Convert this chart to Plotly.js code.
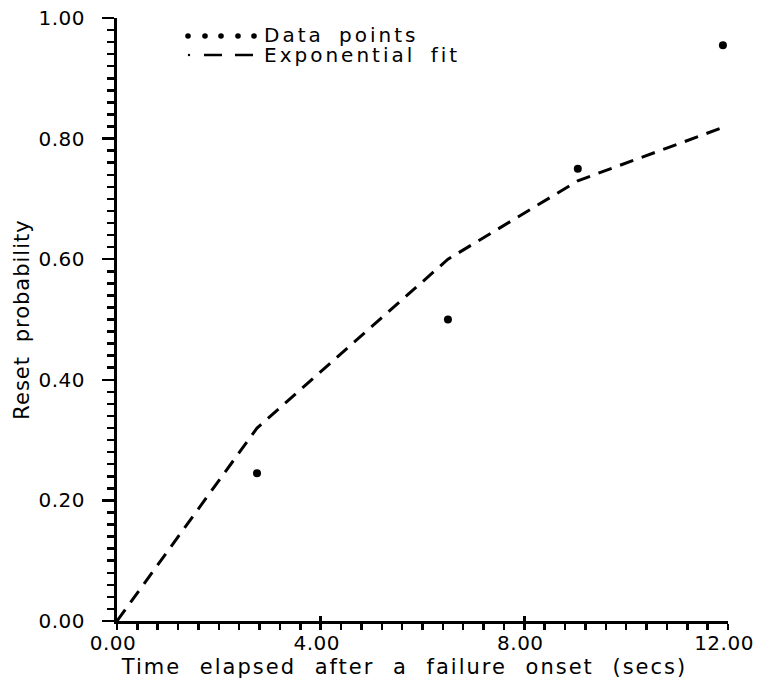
<!DOCTYPE html>
<html>
<head>
<meta charset="utf-8">
<script src="https://cdn.plot.ly/plotly-3.0.1.min.js"></script>
<style>
html,body{margin:0;padding:0;background:#fff;}
#chart{width:757px;height:689px;}
.xtitle{letter-spacing:2px;word-spacing:10px;}
#chart .xtitle{transform:translateX(-18px);}
.ytitle{letter-spacing:1px;word-spacing:6px;}
.annotation-text{letter-spacing:3px;word-spacing:6px;}
.xtick text,.ytick text{letter-spacing:0.5px;}
</style>
</head>
<body>
<div id="chart"></div>
<script>
// Data
const dataTime = [2.75, 6.5, 9.05, 11.9];
const dataProb = [0.245, 0.50, 0.75, 0.955];
const fitTime = [0.0, 2.75, 6.5, 9.05, 11.95];
const fitProb = [0.0, 0.32, 0.60, 0.73, 0.82];
const legendLabels = ['Data points', 'Exponential fit'];
const xTitle = 'Time elapsed after a failure onset (secs)';
const yTitle = 'Reset probability';

const FONT = 'DejaVu Sans, sans-serif';
const W = 757, H = 689;
const M = {l: 117, r: 29, t: 18, b: 68};
const pw = W - M.l - M.r, ph = H - M.t - M.b;
const px2x = p => (p - M.l) / pw;
const py2y = p => (H - M.b - p) / ph;

const traces = [
  {x: fitTime, y: fitProb, mode: 'lines', name: legendLabels[1],
   line: {color: '#000', width: 3, dash: '14px,9px'}, showlegend: false, hoverinfo: 'skip'},
  {x: dataTime, y: dataProb, mode: 'markers', name: legendLabels[0],
   marker: {color: '#000', size: 8, symbol: 'circle'}, showlegend: false}
];

// Legend drawn as layout decoration
const shapes = [];
[188, 205, 221, 238, 254].forEach(cx => {
  shapes.push({type: 'circle', xref: 'paper', yref: 'paper',
    x0: px2x(cx - 2.8), x1: px2x(cx + 2.8), y0: py2y(36 + 2.8), y1: py2y(36 - 2.8),
    fillcolor: '#000', line: {width: 0}});
});
shapes.push({type: 'circle', xref: 'paper', yref: 'paper',
  x0: px2x(189 - 1.2), x1: px2x(189 + 1.2), y0: py2y(55 + 1.2), y1: py2y(55 - 1.2),
  fillcolor: '#000', line: {width: 0}});
[[204, 222], [235, 253]].forEach(d => {
  shapes.push({type: 'line', xref: 'paper', yref: 'paper',
    x0: px2x(d[0]), x1: px2x(d[1]), y0: py2y(55), y1: py2y(55),
    line: {color: '#000', width: 2.5}});
});

const annotations = legendLabels.map((t, i) => ({
  text: t, xref: 'paper', yref: 'paper', x: px2x(262), y: py2y(35 + i * 20),
  xanchor: 'left', yanchor: 'middle', showarrow: false,
  font: {family: FONT, size: 20, color: '#000'}
}));

const layout = {
  width: W, height: H,
  margin: M,
  paper_bgcolor: '#fff', plot_bgcolor: '#fff',
  font: {family: FONT, size: 20, color: '#000'},
  showlegend: false,
  xaxis: {
    range: [0, 12], dtick: 4, tick0: 0, tickformat: '.2f',
    showgrid: false, zeroline: false, showline: true, linecolor: '#000', linewidth: 3,
    ticks: 'outside', ticklen: 6, tickwidth: 2.5, tickcolor: '#000',
    minor: {dtick: 0.4, ticks: 'outside', ticklen: 6, tickwidth: 2.5, tickcolor: '#000', showgrid: false},
    ticklabelshift: -4,
    ticklabelstandoff: -4,
    tickfont: {family: FONT, size: 20, color: '#000'},
    title: {text: xTitle, font: {family: FONT, size: 21, color: '#000'}, standoff: 0},
    fixedrange: true
  },
  xaxis2: {
    overlaying: 'x', matches: 'x', anchor: 'y', side: 'bottom',
    range: [0, 12], dtick: 4, tick0: 0, showgrid: false, zeroline: false, showline: false,
    ticks: 'inside', ticklen: 5, tickwidth: 2.5, tickcolor: '#000', showticklabels: false
  },
  yaxis: {
    range: [0, 1], dtick: 0.2, tick0: 0, tickformat: '.2f',
    showgrid: false, zeroline: false, showline: true, linecolor: '#000', linewidth: 3,
    ticks: 'outside', ticklen: 12, tickwidth: 2.5, tickcolor: '#000',
    minor: {dtick: 0.02, ticks: 'outside', ticklen: 7, tickwidth: 2.5, tickcolor: '#000', showgrid: false},
    ticklabelstandoff: 13,
    tickfont: {family: FONT, size: 20, color: '#000'},
    title: {text: yTitle, font: {family: FONT, size: 21, color: '#000'}, standoff: 4},
    fixedrange: true
  },
  shapes: shapes,
  annotations: annotations
};

// empty trace so that the overlay axis (major tick marks crossing the line) is drawn
traces.push({x: [], y: [], xaxis: 'x2', yaxis: 'y', showlegend: false, hoverinfo: 'skip'});

Plotly.newPlot('chart', traces, layout, {staticPlot: true, displayModeBar: false});
</script>
</body>
</html>
